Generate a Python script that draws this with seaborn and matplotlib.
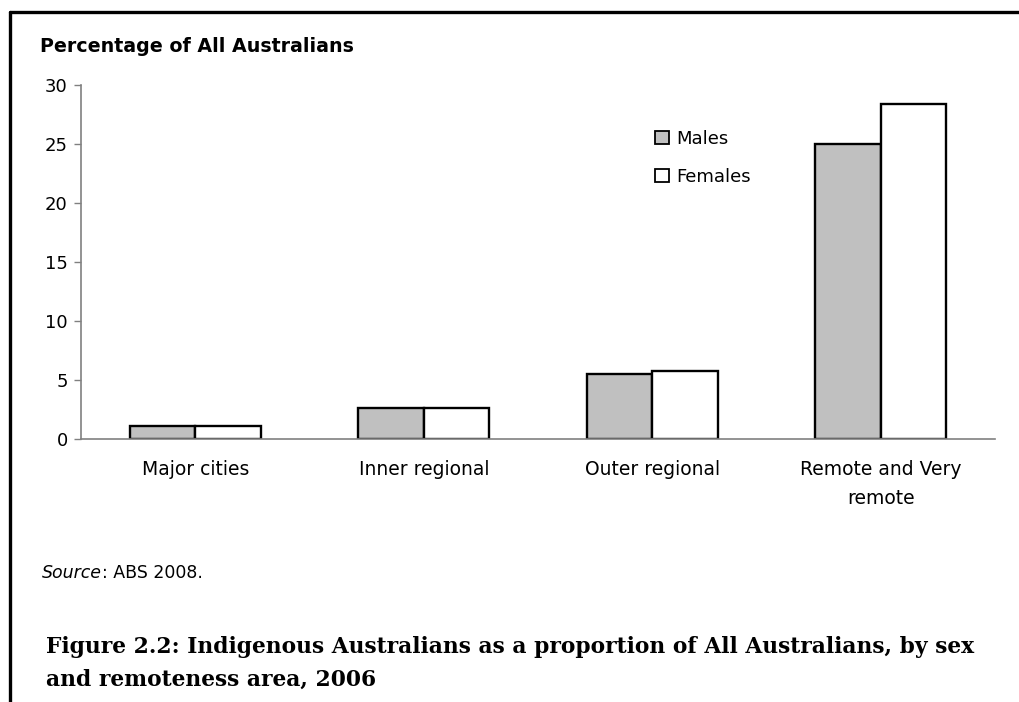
import pandas as pd
import seaborn as sns
import matplotlib.pyplot as plt
from matplotlib.lines import Line2D
from matplotlib.patches import Patch

areas = ["Major cities", "Inner regional", "Outer regional", "Remote and Very\nremote"]
males = [1.1, 2.6, 5.5, 25.0]
females = [1.1, 2.6, 5.8, 28.4]
yticks = [0, 5, 10, 15, 20, 25, 30]

df = pd.DataFrame({
    "area": areas * 2,
    "sex": ["Males"] * len(areas) + ["Females"] * len(areas),
    "pct": males + females,
})

sns.set_theme(style="white")
plt.rcParams["font.family"] = ["DejaVu Sans"]
plt.rcParams["text.color"] = "black"

fig = plt.figure(figsize=(10.19, 7.02), dpi=100)
ax = fig.add_axes([0.0795, 0.3746, 0.897, 0.5043])

sns.barplot(data=df, x="area", y="pct", hue="sex", order=areas,
            hue_order=["Males", "Females"],
            palette={"Males": "#c0c0c0", "Females": "white"},
            width=0.574, gap=0, edgecolor="black", linewidth=1.7,
            legend=False, ax=ax)

ax.set_ylim(0, 30)
ax.set_yticks(yticks)
ax.set_xlim(-0.5, len(areas) - 0.5)
ax.set_xlabel("")
ax.set_ylabel("")
for s in ["top", "right"]:
    ax.spines[s].set_visible(False)
for s in ["left", "bottom"]:
    ax.spines[s].set_color("#808080")
    ax.spines[s].set_linewidth(1.2)
ax.tick_params(axis="y", length=5, width=1, color="#808080", direction="out",
               pad=4.5, labelsize=13, labelcolor="black", left=True)
ax.tick_params(axis="x", length=0, pad=15, labelsize=13.5, labelcolor="black")
for lbl in ax.get_xticklabels():
    lbl.set_linespacing(1.65)

handles = [Patch(facecolor="#c0c0c0", edgecolor="black", linewidth=1.3, label="Males"),
           Patch(facecolor="white", edgecolor="black", linewidth=1.3, label="Females")]
leg = ax.legend(handles=handles, loc="upper left", bbox_to_anchor=(0.643, 0.815),
                bbox_transform=fig.transFigure, frameon=False, fontsize=13,
                handlelength=0.75, handleheight=0.75, handletextpad=0.4,
                labelspacing=1.1, borderpad=0, borderaxespad=0)
for t in leg.get_texts():
    t.set_color("black")

fig.text(0.039, 0.926, "Percentage of All Australians", fontsize=13.7,
         fontweight="bold", va="baseline", ha="left")

src = fig.text(0.041, 0.1766, "Source", fontsize=12.5, style="italic",
               va="baseline", ha="left")
ax.annotate(": ABS 2008.", xy=(1, 0), xycoords=src, fontsize=12.5,
            va="bottom", ha="left", annotation_clip=False)

caption = ["Figure 2.2: Indigenous Australians as a proportion of All Australians, by sex",
           "and remoteness area, 2006"]
for line, yb in zip(caption, [0.0698, 0.0228]):
    fig.text(0.045, yb, line, fontsize=15.7, fontweight="bold",
             family="DejaVu Serif", va="baseline", ha="left")

# page frame (left and top rules)
fig.add_artist(Line2D([0.0098, 0.0098], [0.0, 0.983], transform=fig.transFigure,
                      color="black", linewidth=2.4))
fig.add_artist(Line2D([0.0098, 1.0], [0.983, 0.983], transform=fig.transFigure,
                      color="black", linewidth=2.4))

fig.savefig("out.png", dpi=100)
